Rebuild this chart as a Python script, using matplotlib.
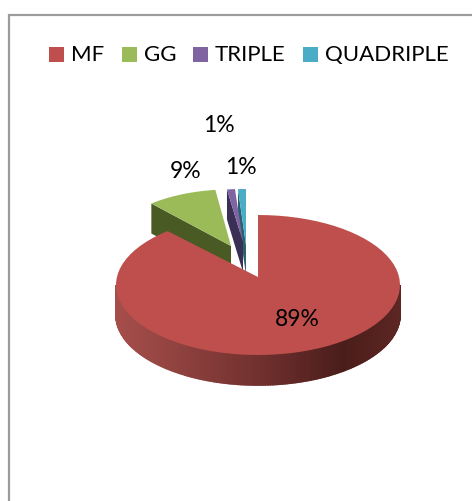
import numpy as np
import matplotlib
matplotlib.use("Agg")
import matplotlib.pyplot as plt
from matplotlib.patches import Rectangle

categories = ["MF", "GG", "TRIPLE", "QUADRIPLE"]
values = [89, 9, 1, 1]

top_colors = ["#BE4F4C", "#9BBB59", "#8064A2", "#4BACC6"]
side_colors = ["#7A3533", "#4A5A25", "#3A2F55", "#2A6070"]

# pixel layout of the pie
cx, cy = 258, 285
rx, ry = 142, 70
depth = 30
# apex of each slice and how far its rim ellipse sits below that apex
apex_x = [258, 231, 243, 246]
apex_y = [277, 246, 242, 245]
rim_lift = [8, 5, 10, 7]
rim_scale = [1.0, 0.88, 0.9, 0.9]
label_pos = [(297, 319), (186, 171), (219, 125), (241, 167)]
legend_x = [49, 122, 193, 303]


def rim(t, scale=1.0):
    t = np.radians(t)
    return scale * rx * np.sin(t), scale * ry * -np.cos(t)


def wedge_outline(i, t0, t1):
    ts = np.linspace(t0, t1, 80)
    rim_x, rim_y = rim(ts, rim_scale[i])
    px = apex_x[i] + rim_x
    py = apex_y[i] + rim_lift[i] + rim_y
    return apex_x[i], apex_y[i], px, py


fig = plt.figure(figsize=(4.72, 5.01), dpi=100)
ax = fig.add_axes([0, 0, 1, 1])
ax.set_xlim(0, 472)
ax.set_ylim(501, 0)
ax.axis("off")

# chart frame, runs off the right and bottom of the picture
ax.plot([9, 9, 472], [501, 15, 15], color="#9C9C9C", lw=1.6, solid_joinstyle="miter")

# angles of each slice, clockwise from 12 o'clock
shares = np.array(values) / sum(values) * 360
starts = np.concatenate([[0], np.cumsum(shares)[:-1]])

# exploded slices first, red one goes on top
for i in [3, 2, 1]:
    t0, t1 = starts[i], starts[i] + shares[i]
    ax0, ay0, px, py = wedge_outline(i, t0, t1)
    ax.fill([px[0], ax0, ax0, px[0]], [py[0], ay0, ay0 + depth, py[0] + depth],
            color=side_colors[i], lw=0)
    ax.fill(np.r_[ax0, px], np.r_[ay0, py], color=top_colors[i], lw=0)

# red outer wall with the shading from left to right
wall_t = np.linspace(270, 90, 181)
wall_stops = [0, 0.12, 0.5, 0.8, 1]
wall_r = [0xA6, 0x9A, 0x72, 0x4A, 0x5C]
wall_g = [0x4E, 0x48, 0x31, 0x1D, 0x26]
wall_b = [0x4B, 0x45, 0x2F, 0x1B, 0x23]
for k in range(len(wall_t) - 1):
    xa, ya = rim(wall_t[k])
    xb, yb = rim(wall_t[k + 1])
    f = (cx + (xa + xb) / 2 - (cx - rx)) / (2 * rx)
    col = (np.interp(f, wall_stops, wall_r) / 255,
           np.interp(f, wall_stops, wall_g) / 255,
           np.interp(f, wall_stops, wall_b) / 255)
    ax.fill([cx + xa, cx + xb, cx + xb, cx + xa],
            [cy + ya, cy + yb, cy + yb + depth, cy + ya + depth],
            facecolor=col, edgecolor=col, lw=1.2)

ax0, ay0, px, py = wedge_outline(0, starts[0], starts[0] + shares[0])
ax.fill(np.r_[ax0, px], np.r_[ay0, py], color=top_colors[0], lw=0)

for v, (lx, ly) in zip(values, label_pos):
    ax.text(lx, ly, f"{v}%", family="Lato", fontsize=16.5, color="black",
            ha="center", va="center")

# legend
for name, col, lx in zip(categories, top_colors, legend_x):
    ax.add_patch(Rectangle((lx, 47), 15, 15, color=col, lw=0))
    ax.text(lx + 22, 54.5, name, family="Lato", fontsize=16, color="black",
            ha="left", va="center")

fig.savefig("out.png", dpi=100)
